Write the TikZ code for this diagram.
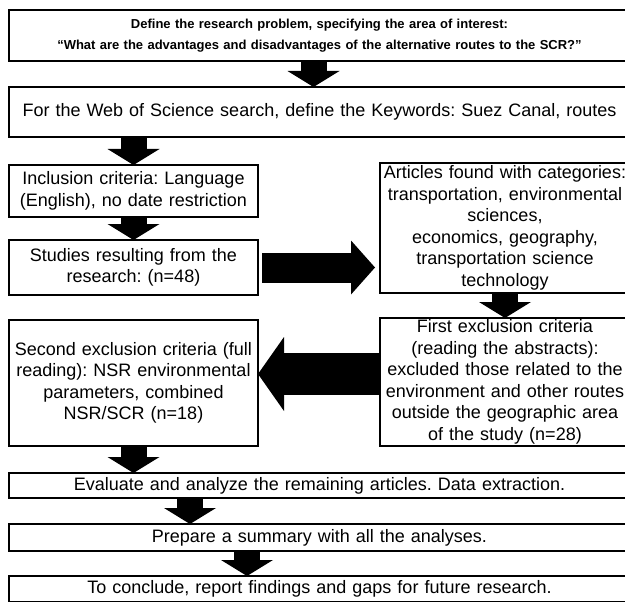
\documentclass[tikz,border=0pt]{standalone}
\usepackage{fontspec}
\setmainfont{Liberation Sans}
\frenchspacing
\usetikzlibrary{arrows.meta,positioning,calc}

\begin{document}
\begin{tikzpicture}[x=1pt, y=-1pt,
	box/.style={draw, rectangle, line width=2.5pt, inner sep=0pt, outer sep=0pt, align=center, font=\fontsize{18}{21.5}\selectfont},
	wide/.style={box, minimum width=621pt, text width=615pt},
	narrow/.style={box, minimum width=249pt, text width=246pt},
	side/.style={box, minimum width=250pt, text width=248pt},
	downarrow/.style={line width=26pt, -{Triangle[width=52pt, length=16pt, line width=0pt]}}]
		\useasboundingbox (0,0) rectangle (625,602);
		\clip (0,0) rectangle (625,602);
		
		\node[wide, minimum height=51pt, anchor=north west, font=\bfseries\fontsize{13}{20.5}\selectfont] (s1) at (9,10) {Define the research problem, specifying the area of interest:\\``What are the advantages and disadvantages of the alternative routes to the SCR?''};
		
		\node[wide, minimum height=50pt, below=26pt of s1.south west, anchor=north west] (s2) {For the Web of Science search, define the Keywords: Suez Canal, routes};
		
		\node[narrow, minimum height=52pt, below=28pt of s2.south west, anchor=north west] (s3) {Inclusion criteria: Language\\(English), no date restriction};
		
		\node[narrow, minimum height=55pt, below=23pt of s3.south west, anchor=north west] (s4) {Studies resulting from the\\research: (n=48)};
		
		\node[side, minimum height=130pt, right=122pt of s3.north east, anchor=north west, yshift=2pt] (s5) {Articles found with categories:\\transportation, environmental\\sciences,\\economics, geography,\\transportation science\\technology};
		
		\node[side, minimum height=128pt, below=25pt of s5.south west, anchor=north west] (s6) {First exclusion criteria\\(reading the abstracts):\\excluded those related to the\\environment and other routes\\outside the geographic area\\of the study (n=28)};
		
		\node[narrow, minimum height=126pt, left=122pt of s6.south west, anchor=south east] (s7) {Second exclusion criteria (full\\reading): NSR environmental\\parameters, combined\\NSR/SCR (n=18)};
		
		\node[wide, minimum height=25pt, below=27pt of s7.south west, anchor=north west] (s8) {Evaluate and analyze the remaining articles. Data extraction.};
		
		\node[wide, minimum height=27pt, below=26pt of s8.south west, anchor=north west] (s9) {Prepare a summary with all the analyses.};
		
		\node[wide, minimum height=26pt, below=25pt of s9.south west, anchor=north west] (s10) {To conclude, report findings and gaps for future research.};
		
		% block arrows
		\draw[downarrow] ([xshift=-6pt]s1.south) -- ([xshift=-6pt]s2.north);
		\draw[downarrow] (s3.north |- s2.south) -- (s3.north);
		\draw[downarrow] (s3.south) -- (s4.north);
		\draw[downarrow] (s5.south) -- (s6.north);
		\draw[downarrow] (s7.south) -- (s7.south |- s8.north);
		\draw[downarrow] ([xshift=181pt]s8.south west) -- ([xshift=181pt]s9.north west);
		\draw[downarrow] ([xshift=238pt]s9.south west) -- ([xshift=238pt]s10.north west);
		
		\draw[line width=30pt, -{Triangle[width=54pt, length=24pt, line width=0pt]}] ([xshift=4pt]s4.east) -- ([xshift=-5pt]s4.east -| s5.west);
		
		\draw[line width=42pt, -{Triangle[width=74pt, length=26pt, line width=0pt]}] ([yshift=8pt]s6.west) -- ([yshift=8pt]s6.west -| s7.east);
		
\end{tikzpicture}
\end{document}
